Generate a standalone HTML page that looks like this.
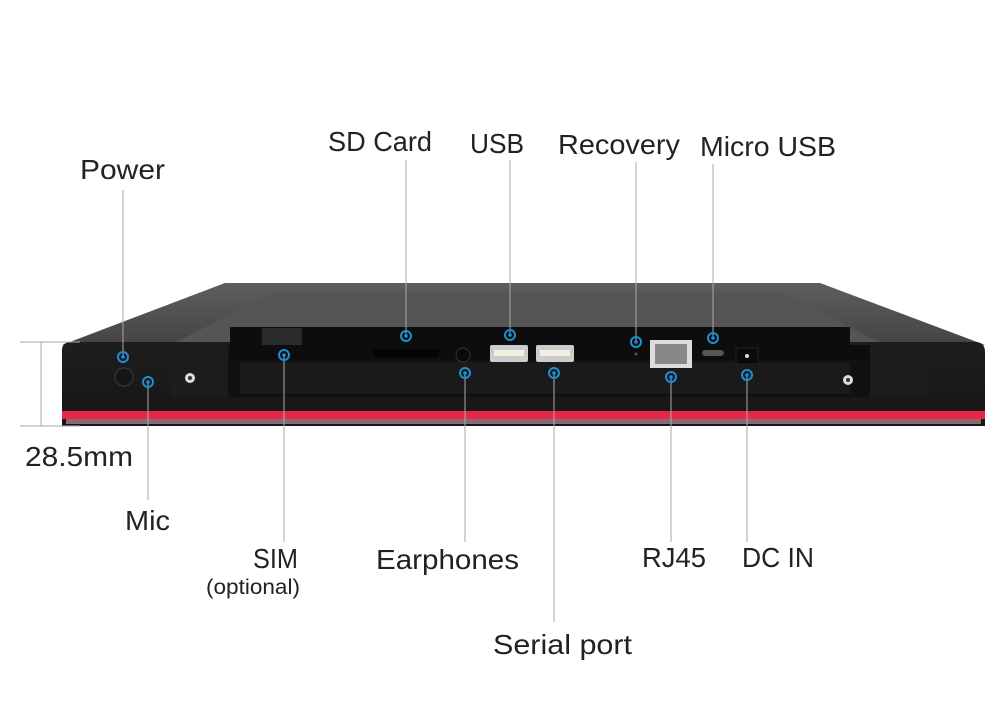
<!DOCTYPE html>
<html><head><meta charset="utf-8"><style>
html,body{margin:0;padding:0;background:#fff}
svg{display:block}
text{font-family:"Liberation Sans","Noto Sans CJK SC",sans-serif;fill:#222;font-size:28px}
</style></head><body>
<svg width="1000" height="714" viewBox="0 0 1000 714" xmlns="http://www.w3.org/2000/svg">
<defs>
<linearGradient id="top" x1="0" y1="0" x2="0" y2="1"><stop offset="0" stop-color="#5e5e5e"/><stop offset="1" stop-color="#444"/></linearGradient>
<linearGradient id="front" x1="0" y1="0" x2="0" y2="1"><stop offset="0" stop-color="#1e1e1e"/><stop offset="1" stop-color="#151515"/></linearGradient>
</defs>
<polygon points="225,283 820,283 985,345 62,345" fill="url(#top)"/>
<polygon points="275,292 780,292 885,345 170,345" fill="#555"/>
<path d="M62,350 Q62,342 72,342 L975,342 Q985,342 985,352 L985,426 L62,426 Z" fill="url(#front)"/>
<rect x="62" y="411" width="923" height="8" fill="#e8264a"/>
<rect x="66" y="419" width="915" height="5" fill="#8a6a70"/>
<path d="M170,345 L870,345 L870,390 Q870,397 862,397 L178,397 Q170,397 170,390 Z" fill="#111"/>
<path d="M230,327 L850,327 L850,345 L870,345 L870,360 L230,360 Z" fill="#0d0d0d"/>
<rect x="240" y="362" width="610" height="32" fill="#1a1a1a"/>
<path d="M170,348 Q170,343 176,343 L228,343 L228,393 Q228,398 222,398 L176,398 Q170,398 170,393 Z" fill="#1c1c1c"/>
<path d="M870,343 L922,343 Q928,343 928,348 L928,393 Q928,398 922,398 L870,398 Z" fill="#1c1c1c"/>
<circle cx="190" cy="378" r="5" fill="#ddd"/><circle cx="190" cy="378" r="2" fill="#333"/>
<circle cx="848" cy="380" r="5" fill="#ddd"/><circle cx="848" cy="380" r="2" fill="#333"/>
<circle cx="124" cy="377" r="9" fill="#151515" stroke="#333" stroke-width="1.5"/>
<rect x="262" y="328" width="40" height="17" fill="#2a2a2a"/>
<rect x="373" y="349" width="66" height="8" fill="#050505"/>
<circle cx="463" cy="355" r="7" fill="#0a0a0a" stroke="#333"/>
<rect x="490" y="345" width="38" height="17" rx="2" fill="#ccc"/><rect x="494" y="350" width="30" height="6" fill="#f2eee0"/>
<rect x="536" y="345" width="38" height="17" rx="2" fill="#ccc"/><rect x="540" y="350" width="30" height="6" fill="#f2eee0"/>
<circle cx="636" cy="354" r="1.5" fill="#555"/>
<rect x="650" y="340" width="42" height="28" fill="#ddd"/><rect x="655" y="344" width="32" height="20" fill="#888"/>
<rect x="702" y="350" width="22" height="6" rx="3" fill="#555"/>
<rect x="736" y="348" width="22" height="16" fill="#0a0a0a" stroke="#222"/><circle cx="747" cy="356" r="2" fill="#ddd"/>
<g stroke="#aaa" stroke-width="1" fill="none">
<line x1="20" y1="342" x2="80" y2="342"/><line x1="20" y1="426" x2="80" y2="426"/><line x1="41" y1="342" x2="41" y2="426"/>
<line x1="123" y1="190" x2="123" y2="357"/>
<line x1="148" y1="382" x2="148" y2="500"/>
<line x1="284" y1="355" x2="284" y2="542"/>
<line x1="406" y1="160" x2="406" y2="336"/>
<line x1="465" y1="373" x2="465" y2="542"/>
<line x1="510" y1="160" x2="510" y2="335"/>
<line x1="554" y1="373" x2="554" y2="622"/>
<line x1="636" y1="162" x2="636" y2="342"/>
<line x1="671" y1="377" x2="671" y2="542"/>
<line x1="713" y1="164" x2="713" y2="338"/>
<line x1="747" y1="375" x2="747" y2="542"/>
</g>
<g fill="none" stroke="#1a8fd6" stroke-width="2"><circle cx="123" cy="357" r="5"/><circle cx="148" cy="382" r="5"/><circle cx="284" cy="355" r="5"/><circle cx="406" cy="336" r="5"/><circle cx="465" cy="373" r="5"/><circle cx="510" cy="335" r="5"/><circle cx="554" cy="373" r="5"/><circle cx="636" cy="342" r="5"/><circle cx="671" cy="377" r="5"/><circle cx="713" cy="338" r="5"/><circle cx="747" cy="375" r="5"/></g>
<g fill="#1a8fd6"><circle cx="123" cy="357" r="1.8"/><circle cx="148" cy="382" r="1.8"/><circle cx="284" cy="355" r="1.8"/><circle cx="406" cy="336" r="1.8"/><circle cx="465" cy="373" r="1.8"/><circle cx="510" cy="335" r="1.8"/><circle cx="554" cy="373" r="1.8"/><circle cx="636" cy="342" r="1.8"/><circle cx="671" cy="377" r="1.8"/><circle cx="713" cy="338" r="1.8"/><circle cx="747" cy="375" r="1.8"/></g>
<g>
<text x="80" y="179" textLength="85" lengthAdjust="spacingAndGlyphs">Power</text>
<text x="328" y="151" textLength="104" lengthAdjust="spacingAndGlyphs">SD Card</text>
<text x="470" y="153" textLength="54" lengthAdjust="spacingAndGlyphs">USB</text>
<text x="558" y="154" textLength="122" lengthAdjust="spacingAndGlyphs">Recovery</text>
<text x="700" y="156" textLength="136" lengthAdjust="spacingAndGlyphs">Micro USB</text>
<text x="25" y="466" textLength="108" lengthAdjust="spacingAndGlyphs">28.5mm</text>
<text x="125" y="530" textLength="45" lengthAdjust="spacingAndGlyphs">Mic</text>
<text x="253" y="568" textLength="45" lengthAdjust="spacingAndGlyphs">SIM</text>
<text x="206" y="594" style="font-size:21px" textLength="94" lengthAdjust="spacingAndGlyphs">(optional)</text>
<text x="376" y="569" textLength="143" lengthAdjust="spacingAndGlyphs">Earphones</text>
<text x="642" y="567" textLength="64" lengthAdjust="spacingAndGlyphs">RJ45</text>
<text x="742" y="567" textLength="72" lengthAdjust="spacingAndGlyphs">DC IN</text>
<text x="493" y="654" textLength="139" lengthAdjust="spacingAndGlyphs">Serial port</text>
</g>
</svg>
</body></html>
